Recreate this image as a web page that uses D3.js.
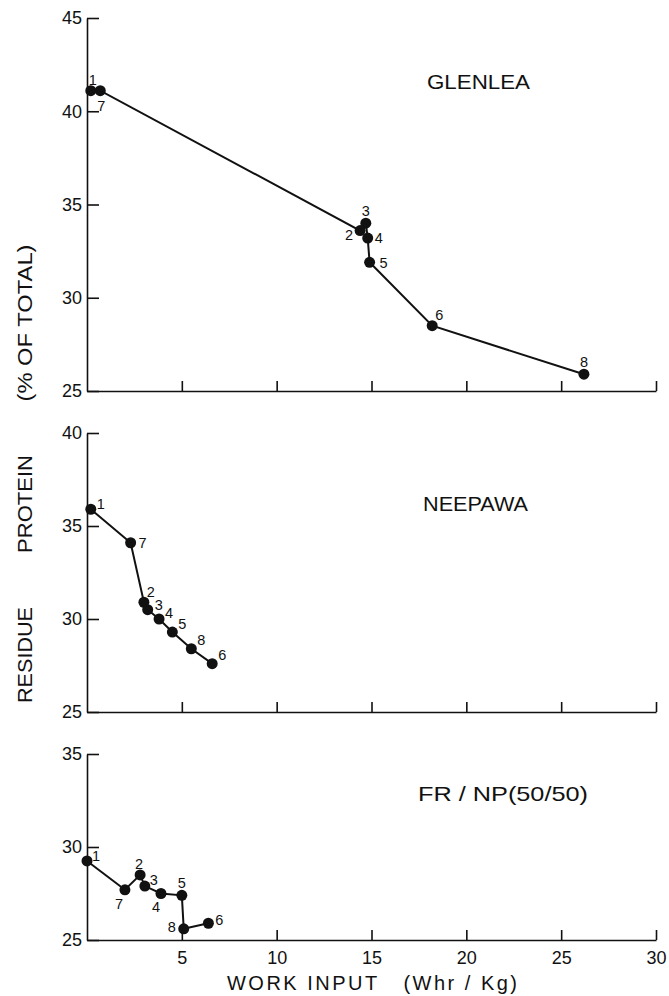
<!DOCTYPE html>
<html>
<head>
<meta charset="utf-8">
<script src="https://cdn.jsdelivr.net/npm/d3@7"></script>
<style>
  body { margin: 0; background: #fff; }
  svg { display: block; font-family: "Liberation Sans", Arial, sans-serif; }
  .axis path, .axis line { stroke: #111; stroke-width: 1.6; }
  .axis text { font-size: 18px; fill: #111; }
  .run-label { font-size: 14.5px; fill: #111; }
  .panel-title { font-size: 21px; fill: #111; }
</style>
</head>
<body>
<svg id="chart"></svg>
<script>
// x ticks shared by all three panels
const xTicks = [5, 10, 15, 20, 25, 30];

// GLENLEA
const glenleaRun = [1, 7, 2, 3, 4, 5, 6, 8];
const glenleaWork = [0.2, 0.7, 14.4, 14.7, 14.8, 14.9, 18.2, 26.2];
const glenleaProtein = [41.1, 41.1, 33.6, 34.0, 33.2, 31.9, 28.5, 25.9];
const glenleaTicks = [25, 30, 35, 40, 45];

// NEEPAWA
const neepawaRun = [1, 7, 2, 3, 4, 5, 8, 6];
const neepawaWork = [0.2, 2.3, 3.0, 3.2, 3.8, 4.5, 5.5, 6.6];
const neepawaProtein = [35.9, 34.1, 30.9, 30.5, 30.0, 29.3, 28.4, 27.6];
const neepawaTicks = [25, 30, 35, 40];

// FR / NP (50/50)
const blendRun = [1, 7, 2, 3, 4, 5, 8, 6];
const blendWork = [0.0, 2.0, 2.8, 3.05, 3.9, 5.0, 5.1, 6.4];
const blendProtein = [29.25, 27.7, 28.5, 27.9, 27.5, 27.4, 25.6, 25.9];
const blendTicks = [25, 30, 35];

const width = 669, height = 996;

const svg = d3.select('#chart')
  .attr('width', width)
  .attr('height', height);

const xScale = d3.scaleLinear().domain([0, 30]).range([87, 656]);

// layout of each panel: y range in pixels and where the run numbers sit
const panels = [
  {
    title: 'GLENLEA', titleX: 427, titleY: 89, titleLen: 103,
    run: glenleaRun, work: glenleaWork, protein: glenleaProtein, ticks: glenleaTicks,
    yRange: [391, 18],
    offsets: [[2, -11], [1, 15], [-11, 4], [0, -12], [11, 0], [14, 0], [7, -11], [0, -12]],
    showX: false
  },
  {
    title: 'NEEPAWA', titleX: 423, titleY: 511, titleLen: 105,
    run: neepawaRun, work: neepawaWork, protein: neepawaProtein, ticks: neepawaTicks,
    yRange: [712, 433],
    offsets: [[10, -5], [12, 0], [7, -10], [11, -5], [10, -6], [10, -8], [10, -9], [10, -9]],
    showX: false
  },
  {
    title: 'FR / NP(50/50)', titleX: 418, titleY: 801, titleLen: 170,
    run: blendRun, work: blendWork, protein: blendProtein, ticks: blendTicks,
    yRange: [940, 754],
    offsets: [[9, -5], [-6, 14], [-1, -11], [9, -6], [-5, 13], [0, -13], [-12, -2], [11, -3]],
    showX: true
  }
];

panels.forEach(p => {
  const yScale = d3.scaleLinear()
    .domain(d3.extent(p.ticks))
    .range(p.yRange);

  const g = svg.append('g');

  // y axis, ticks pointing inward
  g.append('g')
    .attr('class', 'axis y-axis')
    .attr('transform', `translate(${xScale(0)},0)`)
    .call(d3.axisLeft(yScale)
      .tickValues(p.ticks)
      .tickSizeInner(-12)
      .tickSizeOuter(0)
      .tickPadding(5)
      .tickFormat(d3.format('d')));

  // x axis, ticks pointing up
  g.append('g')
    .attr('class', 'axis x-axis')
    .attr('transform', `translate(0,${yScale(p.ticks[0])})`)
    .call(d3.axisBottom(xScale)
      .tickValues(xTicks)
      .tickSizeInner(-10)
      .tickSizeOuter(0)
      .tickPadding(11)
      .tickFormat(p.showX ? d3.format('d') : ''));

  const pts = p.run.map((r, i) => ({ run: r, x: p.work[i], y: p.protein[i], off: p.offsets[i] }));

  const line = d3.line()
    .x(d => xScale(d.x))
    .y(d => yScale(d.y));

  g.append('path')
    .datum(pts)
    .attr('d', line)
    .attr('fill', 'none')
    .attr('stroke', '#111')
    .attr('stroke-width', 2);

  g.selectAll('.dot')
    .data(pts)
    .join('circle')
    .attr('class', 'dot')
    .attr('cx', d => xScale(d.x))
    .attr('cy', d => yScale(d.y))
    .attr('r', 5.5)
    .attr('fill', '#111');

  g.selectAll('.run-label')
    .data(pts)
    .join('text')
    .attr('class', 'run-label')
    .attr('x', d => xScale(d.x) + d.off[0])
    .attr('y', d => yScale(d.y) + d.off[1])
    .attr('dy', '0.36em')
    .attr('text-anchor', 'middle')
    .text(d => d.run);

  g.append('text')
    .attr('class', 'panel-title')
    .attr('x', p.titleX)
    .attr('y', p.titleY)
    .attr('textLength', p.titleLen)
    .attr('lengthAdjust', 'spacingAndGlyphs')
    .text(p.title);
});

// y axis title, three words spread down the left edge
const yTitleParts = [
  { text: 'RESIDUE', center: 655, len: 96 },
  { text: 'PROTEIN', center: 504, len: 98 },
  { text: '(% OF TOTAL)', center: 323, len: 157 }
];
yTitleParts.forEach(t => {
  svg.append('text')
    .attr('transform', `translate(32,${t.center}) rotate(-90)`)
    .attr('text-anchor', 'middle')
    .attr('textLength', t.len)
    .attr('lengthAdjust', 'spacingAndGlyphs')
    .style('font-size', '21px')
    .style('fill', '#111')
    .text(t.text);
});

// x axis title
svg.append('text')
  .attr('x', 227)
  .attr('y', 990)
  .attr('textLength', 290)
  .attr('lengthAdjust', 'spacing')
  .style('font-size', '20px')
  .style('fill', '#111')
  .style('white-space', 'pre')
  .text('WORK INPUT   (Whr / Kg)');
</script>
</body>
</html>
